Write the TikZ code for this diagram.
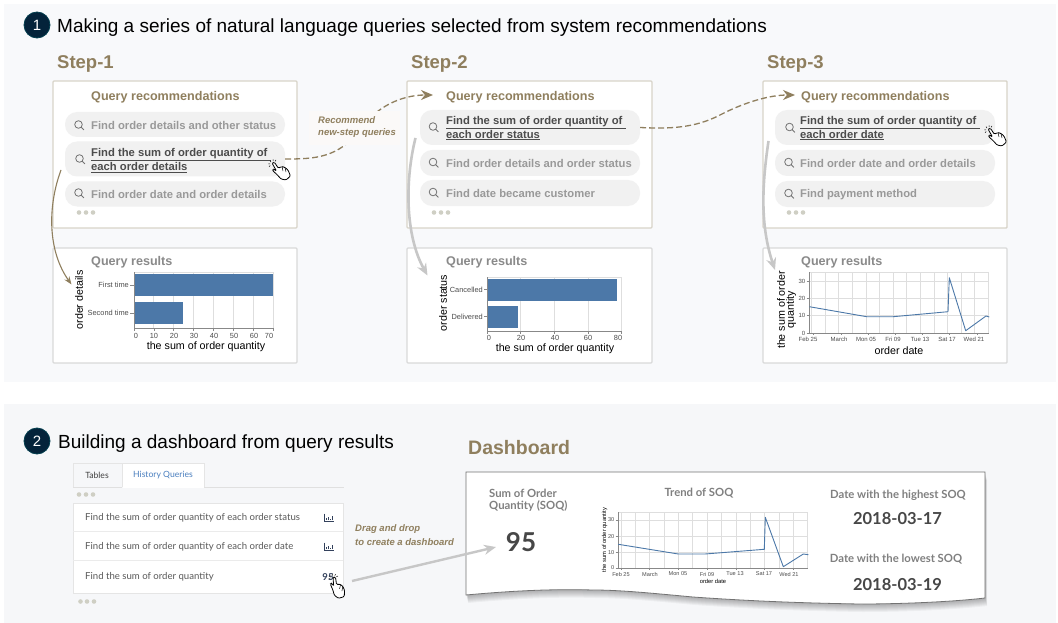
\documentclass[tikz,border=0pt]{standalone}
\usepackage{fontspec}
\setmainfont{Liberation Sans}
\newfontfamily\latofont{Lato}
\usetikzlibrary{arrows.meta}
\definecolor{brownc}{HTML}{8F7F5E}
\definecolor{boxc}{HTML}{D8D4C9}
\definecolor{pillc}{HTML}{F1F1F1}
\definecolor{grayt}{HTML}{999999}
\definecolor{barc}{HTML}{4C78A8}
\definecolor{gridc}{HTML}{DEDEDE}
\definecolor{axisc}{HTML}{888888}
\definecolor{navy}{HTML}{04233A}
\definecolor{dotc}{HTML}{CFCFC4}
\definecolor{bgone}{HTML}{F8F9FB}
\definecolor{bgtwo}{HTML}{F6F7F9}
\definecolor{notebg}{HTML}{FBF9F8}
\definecolor{tabblue}{HTML}{4A7FBF}
\definecolor{slate}{HTML}{33415C}
\newcommand{\fs}[1]{\fontsize{#1}{#1}\selectfont}
\tikzset{
  txt/.style={inner sep=0pt,anchor=west},
  numdisc/.style={circle,fill=navy,draw=navy!70!teal,line width=.8pt,minimum size=26pt,inner sep=0pt,text=white,font=\fs{15}},
  headline/.style={txt,font=\fs{19},text=black},
  steplabel/.style={txt,font=\fs{18.5}\bfseries,text=brownc},
  panelbox/.style={draw=boxc,line width=1.4pt,fill=white,rounded corners=1pt},
  resbox/.style={draw=gray!30,line width=1.4pt,fill=white,rounded corners=1pt},
  pill/.style={fill=pillc,rounded corners=12pt},
  rectitle/.style={txt,font=\fs{12.6}\bfseries,text=brownc},
  restitle/.style={txt,font=\fs{12.6}\bfseries,text=grayt!90!black},
  querytxt/.style={txt,font=\fs{11.25}\bfseries,text=grayt},
  querysel/.style={txt,font=\fs{11.25}\bfseries,text=black!70,align=left},
  tick/.style={inner sep=0pt,font=\fs{7.4},text=black!70},
  axlabel/.style={inner sep=0pt,font=\fs{10.7},text=black},
  smalltick/.style={inner sep=0pt,font=\fs{6},text=black!70},
  note/.style={txt,font=\fs{9.5}\bfseries\itshape,text=brownc},
  gridl/.style={draw=gridc,line width=.9pt},
  axisl/.style={draw=axisc,line width=.8pt},
  bar/.style={fill=barc},
  serie/.style={draw=barc,line width=.9pt,line join=round},
  dotmark/.style={circle,fill=dotc,inner sep=0pt,minimum size=4.6pt},
  graybend/.style={draw=black!22,line width=2.6pt,-{Stealth[length=12pt,width=10pt]}},
  dashlink/.style={draw=brownc,line width=1.3pt,dash pattern=on 6pt off 3pt,-{Stealth[length=12pt,width=10pt]}},
  tablerow/.style={txt,font=\latofont\fs{9.6},text=black!65},
  dashhead/.style={font=\latofont\fs{11.3}\bfseries,text=black!50,inner sep=0pt},
  bignum/.style={font=\latofont\fs{16.5}\bfseries,text=black!72,inner sep=0pt},
  magn/.pic={\draw[black!55,line width=.8pt] (0,0) circle (3.8) (2.7,2.7) -- (5.4,5.4);},
  handicon/.pic={
    \draw[black,line width=.8pt,fill=white,rounded corners=1.1pt] (0,0) -- (2.4,-.8) -- (6.3,5.2) -- (10,3.5) -- (13,4.5) -- (16,7) -- (18.5,13) -- (14,17) -- (9,16) -- (5,11.5) -- (.5,7.5) -- (1.5,6) -- (4.5,8) -- cycle;
    \draw[black,line width=.5pt] (10,3.5) -- (11,8) (13,4.5) -- (14,9);
    \draw[black,line width=.5pt] (-1,-1) -- (-2,-2.4) (1,-2) -- (1.2,-3.6) (-2,1) -- (-3.6,.8) (-1.8,2.6) -- (-3,3.6) (3,-1.6) -- (4,-3);
  },
  graphicon/.pic={
    \draw[slate,line width=.8pt] (-4.5,-4) -- (-4.5,3.6) -- (4.8,3.6);
    \draw[slate,line width=1pt] (-2.6,2.6) -- (-2.6,.6) (-.6,2.6) -- (-.6,-.6) (1.2,2.6) -- (1.2,1) (3,2.6) -- (3,-2);
  },
}
\begin{document}
\begin{tikzpicture}[x=1pt,y=-1pt]
\useasboundingbox (0,0) rectangle (1058,623);
\fill[white] (0,0) rectangle (1058,623);
\fill[bgone] (4,4) rectangle (1056,382);
\fill[bgtwo] (4,404) rectangle (1056,623);

% section one
\node[numdisc] (n1) at (37,25) {1};
\node[headline] (h1) at (57,27.5) {Making a series of natural language queries selected from system recommendations};
\node[steplabel] (s1) at (57,64) {Step-1};
\node[steplabel] (s2) at (411,64) {Step-2};
\node[steplabel] (s3) at (767,64) {Step-3};

% boxes
\draw[panelbox] (53,81) rectangle (297,228);
\draw[panelbox] (407,81) rectangle (652,228);
\draw[panelbox] (763,81) rectangle (1007,228);
\draw[resbox] (53,248) rectangle (297,363);
\draw[resbox] (407,248) rectangle (652,363);
\draw[resbox] (763,248) rectangle (1007,363);

\node[rectitle] (r1) at (91,97) {Query recommendations};
\node[rectitle] (r2) at (446,97) {Query recommendations};
\node[rectitle] (r3) at (801,97) {Query recommendations};
\node[restitle] (q1) at (91,262) {Query results};
\node[restitle] (q2) at (446,262) {Query results};
\node[restitle] (q3) at (801,262) {Query results};

% pills step 1
\node[pill,minimum width=220pt,minimum height=25pt,inner sep=0pt] (p1a) at (175,124.5) {};
\node[pill,minimum width=220pt,minimum height=35pt,inner sep=0pt] (p1b) at (175,159) {};
\node[pill,minimum width=220pt,minimum height=25pt,inner sep=0pt] (p1c) at (175,194) {};
\node[querytxt] (t1a) at (91,125.5) {Find order details and other status};
\node[querysel] (t1b) at (91,160.5) {\underline{Find the sum of order quantity of }\\[1pt]\underline{each order details}};
\node[querytxt] (t1c) at (91,194.5) {Find order date and order details};
\pic at (78.5,124.5) {magn};
\pic at (79.5,158.5) {magn};
\pic at (78.5,192.5) {magn};
\foreach \x [count=\i] in {79,86,93} \node[dotmark] (d1\i) at (\x,212.5) {};

% pills step 2
\node[pill,minimum width=220pt,minimum height=35pt,inner sep=0pt] (p2a) at (530,127.5) {};
\node[pill,minimum width=220pt,minimum height=26pt,inner sep=0pt] (p2b) at (530,163) {};
\node[pill,minimum width=220pt,minimum height=26pt,inner sep=0pt] (p2c) at (530,193) {};
\node[querysel] (t2a) at (446,128) {\underline{Find the sum of order quantity of }\\[.5pt]\underline{each order status}};
\node[querytxt] (t2b) at (446,163.5) {Find order details and order status};
\node[querytxt] (t2c) at (446,193.5) {Find date became customer};
\pic at (433,126.5) {magn};
\pic at (433,162) {magn};
\pic at (433,192) {magn};
\foreach \x [count=\i] in {434,441,448} \node[dotmark] (d2\i) at (\x,212.5) {};

% pills step 3
\node[pill,minimum width=220pt,minimum height=35pt,inner sep=0pt] (p3a) at (885,127.5) {};
\node[pill,minimum width=220pt,minimum height=26pt,inner sep=0pt] (p3b) at (885,163) {};
\node[pill,minimum width=220pt,minimum height=26pt,inner sep=0pt] (p3c) at (885,194) {};
\node[querysel] (t3a) at (800,128) {\underline{Find the sum of order quantity of }\\[.5pt]\underline{each order date}};
\node[querytxt] (t3b) at (800,163.5) {Find order date and order details};
\node[querytxt] (t3c) at (800,194.5) {Find payment method};
\pic at (789.5,127) {magn};
\pic at (788.5,162) {magn};
\pic at (788.5,193) {magn};
\foreach \x [count=\i] in {789,796,803} \node[dotmark] (d3\i) at (\x,212.5) {};

% chart 1
\foreach \i in {0,...,7} {\draw[gridl] ({134+\i*19.9},272) -- ({134+\i*19.9},328);
  \draw[axisl] ({134+\i*19.9},328) -- ({134+\i*19.9},331);}
\draw[gridl] (134,272) -- (273,272);
\fill[bar] (134,274) rectangle (273,296);
\fill[bar] (134,302) rectangle (183,324);
\draw[axisl] (134,272) -- (134,328) -- (273,328);
\draw[axisl] (130,285) -- (134,285) (130,313) -- (134,313);
\foreach \v/\x [count=\i] in {0/136,10/154,20/174,30/194,40/214,50/234,60/254,70/269}
  \node[tick] (c1x\i) at (\x,335.5) {\v};
\node[tick,anchor=east] (c1y1) at (129,285) {First time};
\node[tick,anchor=east] (c1y2) at (129,313) {Second time};
\node[axlabel] (c1xl) at (206,346.5) {the sum of order quantity};
\node[axlabel,rotate=90] (c1yl) at (79,300) {order details};

% chart 2
\foreach \i in {0,...,4} {\draw[gridl] ({487+\i*33.7},277) -- ({487+\i*33.7},331);
  \draw[axisl] ({487+\i*33.7},331) -- ({487+\i*33.7},334);}
\draw[gridl] (487,277) -- (622,277);
\fill[bar] (487,279) rectangle (617,301);
\fill[bar] (487,306) rectangle (518,328);
\draw[axisl] (487,277) -- (487,331) -- (622,331);
\draw[axisl] (484,289.5) -- (487,289.5) (484,316.5) -- (487,316.5);
\foreach \v/\x [count=\i] in {0/489,20/521,40/555,60/588,80/618}
  \node[tick] (c2x\i) at (\x,338) {\v};
\node[tick,anchor=east] (c2y1) at (483,289.5) {Cancelled};
\node[tick,anchor=east] (c2y2) at (483,316.5) {Delivered};
\node[axlabel] (c2xl) at (555,348.5) {the sum of order quantity};
\node[axlabel,rotate=90] (c2yl) at (443,303) {order status};

% chart 3
\foreach \i in {0,...,13} \draw[gridl] ({811.7+\i*13.6},272) -- ({811.7+\i*13.6},333);
\foreach \y in {272,281,298,315} \draw[gridl] (809,\y) -- (989,\y);
\draw[axisl] (809.5,272) -- (809.5,333) -- (989,333);
\foreach \i in {0,2,...,12} \draw[axisl] ({811.7+\i*13.6+2},333) -- ({811.7+\i*13.6+2},335);
\foreach \v/\y [count=\i] in {0/333,10/315,20/298,30/281} {
  \draw[axisl] (806.5,\y) -- (809.5,\y);
  \node[smalltick,anchor=east] (c3y\i) at (805.5,\y) {\v};}
\draw[serie] (809.3,306.7) -- (866.7,316.7) -- (893.3,316.7) -- (948,311.7) -- (949.3,277.7) -- (965.7,330.7) -- (986,316) -- (989.3,317);
\foreach \t/\x [count=\i] in {Feb 25/808,March/839,Mon 05/866,Fri 09/893,Tue 13/920,Sat 17/947,Wed 21/974}
  \node[smalltick] (c3x\i) at (\x,339) {\t};
\node[axlabel] (c3xl) at (899,350.5) {order date};
\node[axlabel,rotate=90] (c3yl) at (781,310) {the sum of order};
\node[axlabel,rotate=90] (c3yk) at (791,310) {quantity};

% connectors of section one
\coordinate (a1s) at (61,170);
\coordinate (a1e) at (71.5,284.5);
\coordinate (a2s) at (415.5,138);
\coordinate (a2e) at (427.5,275.5);
\coordinate (a3s) at (768.5,141);
\coordinate (a3e) at (775,270);
\coordinate (l1e) at (433,95);
\coordinate (l2e) at (795,95);
\draw[brownc,line width=1.1pt,-{Stealth[length=8pt,width=6pt]}] (a1s) .. controls (48,205) and (47,250) .. (a1e);
\draw[graybend] (a2s) .. controls (405,180) and (405,235) .. (a2e);
\draw[graybend] (a3s) .. controls (762,185) and (760,225) .. (a3e);
\draw[dashlink] (p1b.east) .. controls (315,159) and (338,158) .. (360,130) .. controls (375,108) and (400,95) .. (l1e);
\draw[dashlink] (p2a.east) .. controls (670,129) and (695,128) .. (720,115) .. controls (745,102) and (770,95) .. (l2e);
\fill[notebg] (309,111) rectangle (400,145);
\node[note] (nt1) at (318,120) {Recommend};
\node[note] (nt2) at (318,133) {new-step queries};
\pic at (272,163) {handicon};
\pic at (988,129) {handicon};

% section two
\node[numdisc] (n2) at (37,441) {2};
\node[headline] (h2) at (58,443.5) {Building a dashboard from query results};
\node[txt,font=\fs{19.5}\bfseries,text=brownc] (dh) at (468,448) {Dashboard};

% tabs
\draw[black!10,line width=.6pt] (73,487) -- (73,463.5) -- (204,463.5) -- (204,487);
\draw[black!10,line width=.6pt] (122,463.5) -- (122,487);
\fill[white] (122.5,464) rectangle (203.5,487.5);
\draw[black!12,line width=.6pt] (73,487.5) -- (122,487.5) (204,487.5) -- (344,487.5);
\node[inner sep=0pt,font=\latofont\fs{8.6},text=black!75] (tb1) at (97,475) {Tables};
\node[inner sep=0pt,font=\latofont\fs{8.6},text=tabblue] (tb2) at (163,475) {History Queries};
\foreach \x [count=\i] in {79,86,93} \node[dotmark] (d4\i) at (\x,494.5) {};
\draw[black!10,fill=white,line width=.7pt] (73,503) rectangle (343,593);
\draw[black!8,line width=.6pt] (73,531.5) -- (343,531.5) (73,560.5) -- (343,560.5);
\node[tablerow] (ro1) at (85,517.5) {Find the sum of order quantity of each order status};
\node[tablerow] (ro2) at (85,546.5) {Find the sum of order quantity of each order date};
\node[tablerow] (ro3) at (85,576.5) {Find the sum of order quantity};
\pic at (329,517.5) {graphicon};
\pic at (329,546.5) {graphicon};
\node[inner sep=0pt,font=\latofont\fs{9.5}\bfseries,text=slate] (v95) at (328,577.5) {95};
\foreach \x [count=\i] in {80.5,87,94} \node[dotmark] (d5\i) at (\x,601.5) {};
\node[note] (nt3) at (355,529) {Drag and drop};
\node[note] (nt4) at (355,542) {to create a dashboard};

% dashboard sheet
\def\sheetpath{(466,472) -- (985,472) -- (985,598) .. controls (950,602) and (900,604) .. (860,604) .. controls (800,603) and (750,601) .. (693,597) .. controls (650,593) and (620,590) .. (593,590) .. controls (560,589) and (520,590) .. (466,595) -- cycle}
\foreach \o in {1,...,8} \fill[black,opacity=.04,shift={(0.25*\o,\o)}] \sheetpath;
\draw[fill=white,draw=black!55,line width=.8pt] \sheetpath;

\node[txt,dashhead] (dt1) at (489,493) {Sum of Order};
\node[txt,dashhead] (dt2) at (489,506) {Quantity (SOQ)};
\node[font=\latofont\fs{26}\bfseries,text=black!72,inner sep=0pt] (dv) at (521,542) {95};
\node[dashhead] (dt3) at (699,493) {Trend of SOQ};
\node[dashhead] (dt4) at (898,495.5) {Date with the highest SOQ};
\node[bignum] (dv1) at (897.5,519) {2018-03-17};
\node[dashhead] (dt5) at (896,559.5) {Date with the lowest SOQ};
\node[bignum] (dv2) at (897.5,585) {2018-03-19};

% dashboard chart
\foreach \i in {0,...,13} \draw[gridl] ({621+\i*14.37},512) -- ({621+\i*14.37},568);
\foreach \y in {512,520,536.7,552.7} \draw[gridl] (618,\y) -- (808,\y);
\draw[axisl] (618,512) -- (618,568) -- (808,568);
\foreach \i in {0,2,...,12} \draw[axisl] ({621+\i*14.37},568) -- ({621+\i*14.37},570);
\foreach \v/\y [count=\i] in {0/568,10/552.7,20/536.7,30/520} {
  \draw[axisl] (615.5,\y) -- (618,\y);
  \node[smalltick,anchor=east,font=\fs{5.6}] (c4y\i) at (614.5,\y) {\v};}
\draw[serie] (618.3,544.3) -- (678.3,554) -- (705,554) -- (764.3,549.3) -- (765.3,517.3) -- (783.3,566.7) -- (803.3,554) -- (808.3,554.7);
\foreach \t/\x [count=\i] in {Feb 25/621,March/650,Mon 05/678,Fri 09/707,Tue 13/735,Sat 17/764,Wed 21/789}
  \node[smalltick,font=\fs{5.6}] (c4x\i) at (\x,574) {\t};
\node[inner sep=0pt,font=\fs{5.8},text=black] (c4xl) at (713,581.5) {order date};
\node[inner sep=0pt,font=\fs{5.8},text=black,rotate=90] (c4yl) at (604.5,540) {the sum of order quantity};

% drag connector
\coordinate (dg) at (352,581);
\coordinate (dge) at (496,547);
\draw[graybend,line width=2.4pt] (dg) -- (dge);
\pic[rotate=-25] at (333,577) {handicon};
\end{tikzpicture}
\end{document}
